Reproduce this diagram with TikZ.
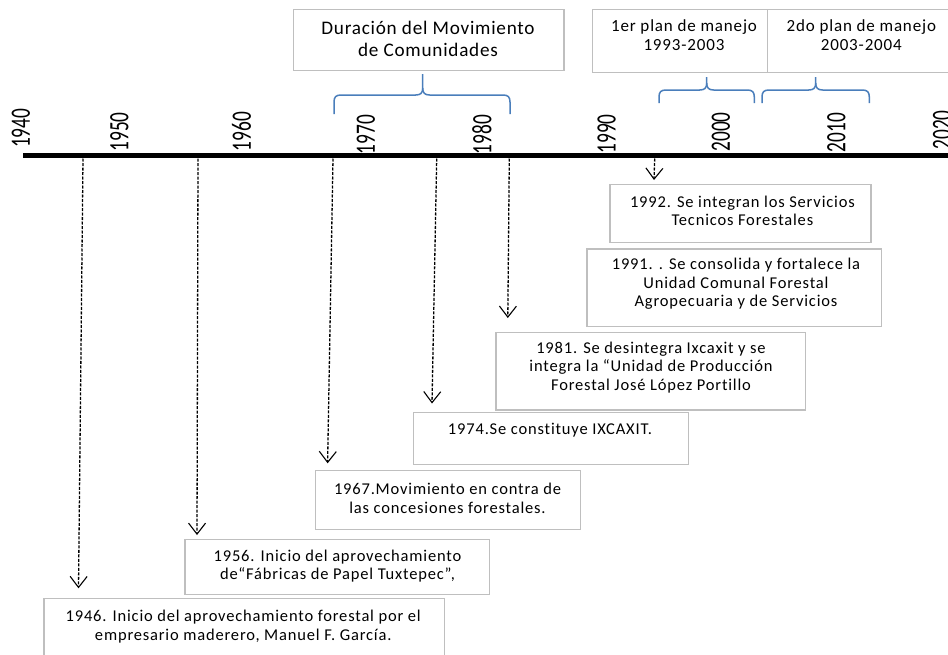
\documentclass[tikz,border=0pt]{standalone}
\usepackage{fontspec}
\setmainfont{Carlito}
\newfontfamily\boxfont[LetterSpace=5,Ligatures=NoCommon]{Carlito}
\newfontfamily\durfont[LetterSpace=4,Ligatures=NoCommon]{Carlito}
\newfontfamily\yearfont{Carlito}
\usetikzlibrary{arrows.meta}
\definecolor{boxgray}{HTML}{BFBFBF}
\definecolor{braceblue}{HTML}{4A7EBB}
\newcommand\ofbrace[6]{%
  \draw[bracest] (#1,#4) -- (#1,#5+7) .. controls (#1,#5+2) and (#1+2,#5) .. (#1+7,#5) -- (#2-7,#5) .. controls (#2-2,#5) and (#2,#5-2) .. (#2,#5-7) -- (#2,#6);
  \draw[bracest] (#2,#5-7) .. controls (#2,#5-2) and (#2+2,#5) .. (#2+7,#5) -- (#3-7,#5) .. controls (#3-2,#5) and (#3,#5+2) .. (#3,#5+7) -- (#3,#4);}
\tikzset{
  boxst/.style={draw=boxgray, line width=1.5pt, rectangle, inner sep=0pt, fill=white},
  txt/.style={align=center, inner sep=0pt, font=\boxfont\fontsize{16.5}{18.4}\selectfont},
  plantxt/.style={align=center, inner sep=0pt, font=\boxfont\fontsize{17}{19}\selectfont},
  durtxt/.style={align=center, inner sep=0pt, font=\durfont\fontsize{19.2}{22}\selectfont},
  yearst/.style={rotate=90, inner sep=0pt, font=\yearfont\fontsize{28}{28}\selectfont},
  axisst/.style={line width=5.5pt, black},
  bracest/.style={draw=braceblue, line width=1.5pt},
  arrst/.style={line width=1.3pt, black, dash pattern=on 3pt off 1.5pt, -{Straight Barb[length=11pt,width=17pt,line width=1.1pt]}},
}
\begin{document}
\begin{tikzpicture}[x=1pt,y=-1pt]
\useasboundingbox (0,0) rectangle (948,654);
\clip (0,0) rectangle (948,654);

% axis
\coordinate (axL) at (23,155.5);
\coordinate (axR) at (960,155.5);
\draw[axisst] (axL) -- (axR);

% year labels
\node[yearst] (y1940) at (21,128.3) {\scalebox{0.69}[1]{1940}};
\node[yearst] (y1950) at (119.5,132) {\scalebox{0.69}[1]{1950}};
\node[yearst] (y1960) at (241.5,131.7) {\scalebox{0.69}[1]{1960}};
\node[yearst] (y1970) at (366,134.5) {\scalebox{0.69}[1]{1970}};
\node[yearst] (y1980) at (482,134.5) {\scalebox{0.69}[1]{1980}};
\node[yearst] (y1990) at (606.7,134) {\scalebox{0.69}[1]{1990}};
\node[yearst] (y2000) at (721,132) {\scalebox{0.69}[1]{2000}};
\node[yearst] (y2010) at (836.5,132.5) {\scalebox{0.69}[1]{2010}};
\node[yearst] (y2020) at (942,130) {\scalebox{0.69}[1]{2020}};

% top boxes
\node[boxst, minimum width=270.7pt, minimum height=61pt] (bdur) at (428.65,39.8) {};
\node[durtxt] (tdur) at (428,38.5) {Duración del Movimiento\\de Comunidades};
\node[boxst, minimum width=175.4pt, minimum height=63.4pt] (bplan1) at (680,41) {};
\node[plantxt] (tplan1) at (684,35) {1er plan de manejo\\1993-2003};
\node[boxst, minimum width=194.3pt, minimum height=63.4pt] (bplan2) at (864.85,41) {};
\node[plantxt] (tplan2) at (861.3,35) {2do plan de manejo\\2003-2004};

% braces
\ofbrace{334}{422.7}{510}{114}{95}{74}
\ofbrace{659}{706.7}{754.3}{103}{90}{77}
\ofbrace{762}{815.7}{869.3}{103}{90}{77}

% event boxes
\node[boxst, minimum width=261pt, minimum height=58.2pt] (b1992) at (740.5,213.4) {};
\node[txt] (t1992) at (742.4,211) {1992. Se integran los Servicios\\Tecnicos Forestales};
\node[boxst, minimum width=294.5pt, minimum height=77.7pt] (b1991) at (734.25,287.85) {};
\node[txt] (t1991) at (736,284) {1991. . Se consolida y fortalece la\\Unidad Comunal Forestal\\Agropecuaria y de Servicios};
\node[boxst, minimum width=309.7pt, minimum height=77.3pt] (b1981) at (650.85,371.35) {};
\node[txt] (t1981) at (651,367.5) {1981. Se desintegra Ixcaxit y se\\integra la “Unidad de Producción\\Forestal José López Portillo};
\node[boxst, minimum width=275.2pt, minimum height=51.8pt] (b1974) at (550.9,438.6) {};
\node[txt] (t1974) at (550,430) {1974.Se constituye IXCAXIT.};
\node[boxst, minimum width=264.9pt, minimum height=58.9pt] (b1967) at (448.15,499.85) {};
\node[txt] (t1967) at (447.5,498.3) {1967.Movimiento en contra de\\las concesiones forestales.};
\node[boxst, minimum width=304.8pt, minimum height=55pt] (b1956) at (337.2,566.8) {};
\node[txt] (t1956) at (337.5,566.3) {1956. Inicio del aprovechamiento\\de“Fábricas de Papel Tuxtepec”,};
\node[boxst, minimum width=400.5pt, minimum height=66.7pt] (b1946) at (244.25,631.65) {};
\node[txt] (t1946) at (243.2,626.7) {1946. Inicio del aprovechamiento forestal por el\\empresario maderero, Manuel F. García.};

% dashed arrows
\coordinate (s1946) at (83,158.5);   \coordinate (e1946) at (78.5,588.3);
\coordinate (s1956) at (198,158.5);  \coordinate (e1956) at (197,535);
\coordinate (s1967) at (333,158.5);  \coordinate (e1967) at (327.6,463.3);
\coordinate (s1974) at (436.7,158.5); \coordinate (e1974) at (432,403.5);
\coordinate (s1981) at (509.3,158.5); \coordinate (e1981) at (507.8,318);
\coordinate (s1992) at (654.7,158.5); \coordinate (e1992) at (654,180);
\draw[arrst] (s1946) -- (e1946);
\draw[arrst] (s1956) -- (e1956);
\draw[arrst] (s1967) -- (e1967);
\draw[arrst] (s1974) -- (e1974);
\draw[arrst] (s1981) -- (e1981);
\draw[arrst] (s1992) -- (e1992);
\end{tikzpicture}
\end{document}
